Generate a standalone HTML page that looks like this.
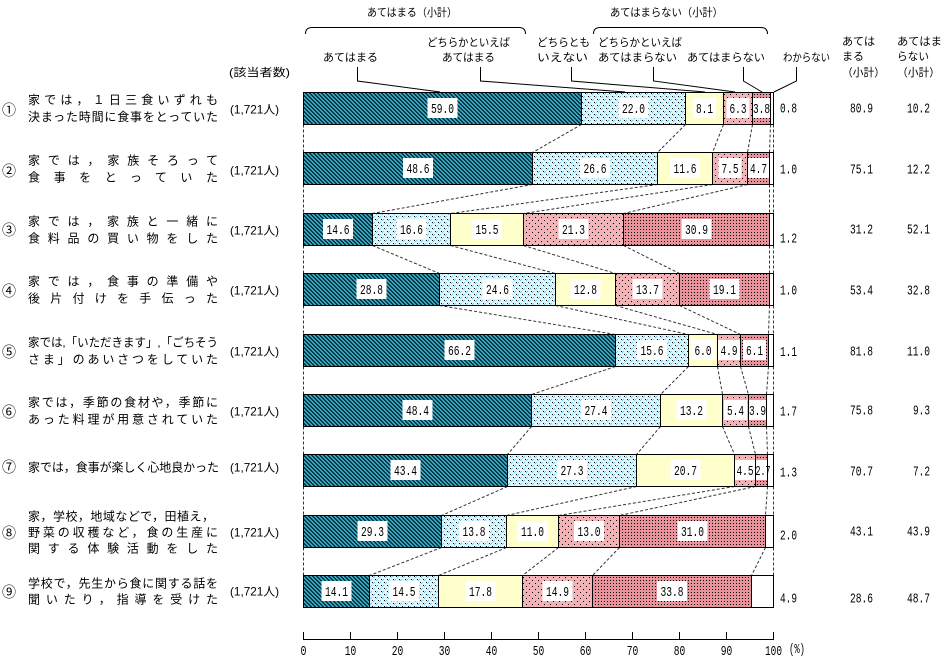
<!DOCTYPE html>
<html><head><meta charset="utf-8"><style>
html,body{margin:0;padding:0;background:#fff;}
body{width:950px;height:663px;overflow:hidden;}
svg{display:block;}
.j{font-family:"Liberation Sans","Noto Sans CJK JP",sans-serif;font-size:12px;fill:#000;}
.h{font-family:"Liberation Sans","Noto Sans CJK JP",sans-serif;font-size:11px;fill:#000;}
.n{font-family:"Liberation Mono",monospace;font-size:13.5px;fill:#000;}
.c{font-family:"Noto Sans CJK JP",sans-serif;font-size:14px;fill:#000;}
</style></head><body>
<svg width="950" height="663" viewBox="0 0 950 663" xmlns="http://www.w3.org/2000/svg">
<defs>
<pattern id="p1" width="4" height="4" patternUnits="userSpaceOnUse">
<rect width="4" height="4" fill="#36a6c0"/>
<path d="M0 0h2v1H0zM1 1h2v1H1zM2 2h2v1H2zM3 3h1v1H3zM0 3h1v1H0z" fill="#0b3a46"/>
</pattern>
<pattern id="p2" width="6" height="6" patternUnits="userSpaceOnUse">
<rect width="6" height="6" fill="#dff4fb"/>
<path d="M0 0h1v1H0zM3 3h1v1H3z" fill="#000"/>
<path d="M2 0h1v1H2zM5 3h1v1H5zM1 1h1v1H1zM4 4h1v1H4z" fill="#7cc4dc"/>
</pattern>
<pattern id="p4" width="6" height="6" patternUnits="userSpaceOnUse">
<rect width="6" height="6" fill="#f2b2b6"/>
<path d="M1 1h1v1H1zM4 4h1v1H4z" fill="#000"/>
</pattern>
<pattern id="p5" width="3" height="3" patternUnits="userSpaceOnUse">
<rect width="3" height="3" fill="#e8929c"/>
<rect x="1" y="1" width="1" height="1" fill="#000"/>
</pattern>
</defs>

<!-- header -->
<text class="h" x="367" y="16" textLength="90" lengthAdjust="spacingAndGlyphs">あてはまる（小計）</text>
<text class="h" x="610" y="16" textLength="113" lengthAdjust="spacingAndGlyphs">あてはまらない（小計）</text>
<path d="M305.5 34 Q305.5 27.5 312 27.5 L519 27.5 Q525.5 27.5 525.5 34" fill="none" stroke="#000"/>
<path d="M593.5 34 Q593.5 27.5 600 27.5 L761 27.5 Q767.5 27.5 767.5 34" fill="none" stroke="#000"/>
<text class="h" x="323" y="61" textLength="55" lengthAdjust="spacingAndGlyphs">あてはまる</text>
<text class="h" x="427" y="46" textLength="83" lengthAdjust="spacingAndGlyphs">どちらかといえば</text>
<text class="h" x="442" y="61" textLength="53" lengthAdjust="spacingAndGlyphs">あてはまる</text>
<text class="h" x="537" y="46" textLength="53" lengthAdjust="spacingAndGlyphs">どちらとも</text>
<text class="h" x="537" y="61" textLength="51" lengthAdjust="spacingAndGlyphs">いえない</text>
<text class="h" x="598" y="46" textLength="84" lengthAdjust="spacingAndGlyphs">どちらかといえば</text>
<text class="h" x="598" y="61" textLength="79" lengthAdjust="spacingAndGlyphs">あてはまらない</text>
<text class="h" x="687" y="61" textLength="78" lengthAdjust="spacingAndGlyphs">あてはまらない</text>
<text class="h" x="783" y="61" textLength="47" lengthAdjust="spacingAndGlyphs">わからない</text>
<text class="h" x="842" y="45" textLength="33" lengthAdjust="spacingAndGlyphs">あては</text>
<text class="h" x="842" y="60" textLength="22" lengthAdjust="spacingAndGlyphs">まる</text>
<text class="h" x="842" y="76" textLength="43" lengthAdjust="spacingAndGlyphs">（小計）</text>
<text class="h" x="897" y="45" textLength="45" lengthAdjust="spacingAndGlyphs">あてはま</text>
<text class="h" x="897" y="60" textLength="32" lengthAdjust="spacingAndGlyphs">らない</text>
<text class="h" x="897" y="76" textLength="43" lengthAdjust="spacingAndGlyphs">（小計）</text>
<text class="h" x="229" y="76" textLength="61" lengthAdjust="spacingAndGlyphs">(該当者数)</text>

<!-- leader lines -->
<g fill="none" stroke="#000" stroke-width="1">
<path d="M357.5 67 V81 L440 92"/>
<path d="M480.5 67 V81 L625 92"/>
<path d="M571.5 67 V81 L705 92"/>
<path d="M653.5 67 V81 L735 92"/>
<path d="M743.5 67 V81 L762 92"/>
<path d="M796.5 67 V81 L774 92"/>
</g>

<!-- dashed connectors -->
<g fill="none" stroke="#333" stroke-width="1" stroke-dasharray="3 2">
<path d="M303.5 124.5V152.5M581.5 124.5L532.5 152.5M685.5 124.5L657.5 152.5M723.5 124.5L712.5 152.5M752.5 124.5L747.5 152.5M770.5 124.5L769.5 152.5M773.5 124.5V152.5"/>
<path d="M303.5 184.5V213.5M532.5 184.5L372.5 213.5M657.5 184.5L450.5 213.5M712.5 184.5L523.5 213.5M747.5 184.5L623.5 213.5M769.5 184.5L769.5 213.5M773.5 184.5V213.5"/>
<path d="M303.5 245.5V273.5M372.5 245.5L439.5 273.5M450.5 245.5L555.5 273.5M523.5 245.5L615.5 273.5M623.5 245.5L679.5 273.5M769.5 245.5L769.5 273.5M773.5 245.5V273.5"/>
<path d="M303.5 305.5V334.5M439.5 305.5L615.5 334.5M555.5 305.5L688.5 334.5M615.5 305.5L717.5 334.5M679.5 305.5L740.5 334.5M769.5 305.5L768.5 334.5M773.5 305.5V334.5"/>
<path d="M303.5 366.5V394.5M615.5 366.5L531.5 394.5M688.5 366.5L660.5 394.5M717.5 366.5L722.5 394.5M740.5 366.5L748.5 394.5M768.5 366.5L766.5 394.5M773.5 366.5V394.5"/>
<path d="M303.5 426.5V454.5M531.5 426.5L507.5 454.5M660.5 426.5L636.5 454.5M722.5 426.5L734.5 454.5M748.5 426.5L755.5 454.5M766.5 426.5L767.5 454.5M773.5 426.5V454.5"/>
<path d="M303.5 486.5V515.5M507.5 486.5L441.5 515.5M636.5 486.5L506.5 515.5M734.5 486.5L558.5 515.5M755.5 486.5L619.5 515.5M767.5 486.5L765.5 515.5M773.5 486.5V515.5"/>
<path d="M303.5 547.5V575.5M441.5 547.5L369.5 575.5M506.5 547.5L438.5 575.5M558.5 547.5L522.5 575.5M619.5 547.5L592.5 575.5M765.5 547.5L751.5 575.5M773.5 547.5V575.5"/>
</g>

<!-- bars -->
<g stroke="#000" stroke-width="1">
<rect x="303.5" y="92.5" width="278" height="32" fill="url(#p1)"/>
<rect x="581.5" y="92.5" width="104" height="32" fill="url(#p2)"/>
<rect x="685.5" y="92.5" width="38" height="32" fill="#ffffcc"/>
<rect x="723.5" y="92.5" width="29" height="32" fill="url(#p4)"/>
<rect x="752.5" y="92.5" width="18" height="32" fill="url(#p5)"/>
<rect x="770.5" y="92.5" width="3" height="32" fill="#fff"/>

<rect x="303.5" y="152.5" width="229" height="32" fill="url(#p1)"/>
<rect x="532.5" y="152.5" width="125" height="32" fill="url(#p2)"/>
<rect x="657.5" y="152.5" width="55" height="32" fill="#ffffcc"/>
<rect x="712.5" y="152.5" width="35" height="32" fill="url(#p4)"/>
<rect x="747.5" y="152.5" width="22" height="32" fill="url(#p5)"/>
<rect x="769.5" y="152.5" width="4" height="32" fill="#fff"/>

<rect x="303.5" y="213.5" width="69" height="32" fill="url(#p1)"/>
<rect x="372.5" y="213.5" width="78" height="32" fill="url(#p2)"/>
<rect x="450.5" y="213.5" width="73" height="32" fill="#ffffcc"/>
<rect x="523.5" y="213.5" width="100" height="32" fill="url(#p4)"/>
<rect x="623.5" y="213.5" width="146" height="32" fill="url(#p5)"/>
<rect x="769.5" y="213.5" width="4" height="32" fill="#fff"/>

<rect x="303.5" y="273.5" width="136" height="32" fill="url(#p1)"/>
<rect x="439.5" y="273.5" width="116" height="32" fill="url(#p2)"/>
<rect x="555.5" y="273.5" width="60" height="32" fill="#ffffcc"/>
<rect x="615.5" y="273.5" width="64" height="32" fill="url(#p4)"/>
<rect x="679.5" y="273.5" width="90" height="32" fill="url(#p5)"/>
<rect x="769.5" y="273.5" width="4" height="32" fill="#fff"/>

<rect x="303.5" y="334.5" width="312" height="32" fill="url(#p1)"/>
<rect x="615.5" y="334.5" width="73" height="32" fill="url(#p2)"/>
<rect x="688.5" y="334.5" width="29" height="32" fill="#ffffcc"/>
<rect x="717.5" y="334.5" width="23" height="32" fill="url(#p4)"/>
<rect x="740.5" y="334.5" width="28" height="32" fill="url(#p5)"/>
<rect x="768.5" y="334.5" width="5" height="32" fill="#fff"/>

<rect x="303.5" y="394.5" width="228" height="32" fill="url(#p1)"/>
<rect x="531.5" y="394.5" width="129" height="32" fill="url(#p2)"/>
<rect x="660.5" y="394.5" width="62" height="32" fill="#ffffcc"/>
<rect x="722.5" y="394.5" width="26" height="32" fill="url(#p4)"/>
<rect x="748.5" y="394.5" width="18" height="32" fill="url(#p5)"/>
<rect x="766.5" y="394.5" width="7" height="32" fill="#fff"/>

<rect x="303.5" y="454.5" width="204" height="32" fill="url(#p1)"/>
<rect x="507.5" y="454.5" width="129" height="32" fill="url(#p2)"/>
<rect x="636.5" y="454.5" width="98" height="32" fill="#ffffcc"/>
<rect x="734.5" y="454.5" width="21" height="32" fill="url(#p4)"/>
<rect x="755.5" y="454.5" width="12" height="32" fill="url(#p5)"/>
<rect x="767.5" y="454.5" width="6" height="32" fill="#fff"/>

<rect x="303.5" y="515.5" width="138" height="32" fill="url(#p1)"/>
<rect x="441.5" y="515.5" width="65" height="32" fill="url(#p2)"/>
<rect x="506.5" y="515.5" width="52" height="32" fill="#ffffcc"/>
<rect x="558.5" y="515.5" width="61" height="32" fill="url(#p4)"/>
<rect x="619.5" y="515.5" width="146" height="32" fill="url(#p5)"/>
<rect x="765.5" y="515.5" width="8" height="32" fill="#fff"/>

<rect x="303.5" y="575.5" width="66" height="32" fill="url(#p1)"/>
<rect x="369.5" y="575.5" width="69" height="32" fill="url(#p2)"/>
<rect x="438.5" y="575.5" width="84" height="32" fill="#ffffcc"/>
<rect x="522.5" y="575.5" width="70" height="32" fill="url(#p4)"/>
<rect x="592.5" y="575.5" width="159" height="32" fill="url(#p5)"/>
<rect x="751.5" y="575.5" width="22" height="32" fill="#fff"/>
</g>

<!-- label boxes -->
<g fill="#fff">
<rect x="427.5" y="98" width="30" height="20"/><rect x="618.5" y="98" width="30" height="20"/><rect x="693" y="98" width="23" height="20"/><rect x="726.5" y="98" width="23" height="20"/><rect x="753" y="98" width="17" height="20"/>
<rect x="403" y="158" width="30" height="20"/><rect x="580" y="158" width="30" height="20"/><rect x="670" y="158" width="30" height="20"/><rect x="718.5" y="158" width="23" height="20"/><rect x="748" y="158" width="21" height="20"/>
<rect x="323" y="219" width="30" height="20"/><rect x="396.5" y="219" width="30" height="20"/><rect x="472" y="219" width="30" height="20"/><rect x="558.5" y="219" width="30" height="20"/><rect x="681.5" y="219" width="30" height="20"/>
<rect x="356.5" y="279" width="30" height="20"/><rect x="482.5" y="279" width="30" height="20"/><rect x="570.5" y="279" width="30" height="20"/><rect x="632.5" y="279" width="30" height="20"/><rect x="709.5" y="279" width="30" height="20"/>
<rect x="444.5" y="340" width="30" height="20"/><rect x="637" y="340" width="30" height="20"/><rect x="691.5" y="340" width="23" height="20"/><rect x="718" y="340" width="22" height="20"/><rect x="743" y="340" width="23" height="20"/>
<rect x="402.5" y="400" width="30" height="20"/><rect x="581" y="400" width="30" height="20"/><rect x="676.5" y="400" width="30" height="20"/><rect x="724" y="400" width="23" height="20"/><rect x="749" y="400" width="17" height="20"/>
<rect x="390.5" y="460" width="30" height="20"/><rect x="557" y="460" width="30" height="20"/><rect x="670.5" y="460" width="30" height="20"/><rect x="735" y="460" width="20" height="20"/><rect x="756" y="460" width="11" height="20"/>
<rect x="357.5" y="521" width="30" height="20"/><rect x="459" y="521" width="30" height="20"/><rect x="517.5" y="521" width="30" height="20"/><rect x="574" y="521" width="30" height="20"/><rect x="677.5" y="521" width="30" height="20"/>
<rect x="321.5" y="581" width="30" height="20"/><rect x="389" y="581" width="30" height="20"/><rect x="465.5" y="581" width="30" height="20"/><rect x="542.5" y="581" width="30" height="20"/><rect x="657" y="581" width="30" height="20"/>
</g>

<!-- values in bars -->
<g text-anchor="middle">
<text class="n" x="442.5" y="113" textLength="23" lengthAdjust="spacingAndGlyphs">59.0</text>
<text class="n" x="633.5" y="113" textLength="23" lengthAdjust="spacingAndGlyphs">22.0</text>
<text class="n" x="704.5" y="113" textLength="17" lengthAdjust="spacingAndGlyphs">8.1</text>
<text class="n" x="738" y="113" textLength="17" lengthAdjust="spacingAndGlyphs">6.3</text>
<text class="n" x="761.5" y="113" textLength="17" lengthAdjust="spacingAndGlyphs">3.8</text>

<text class="n" x="418" y="173" textLength="23" lengthAdjust="spacingAndGlyphs">48.6</text>
<text class="n" x="595" y="173" textLength="23" lengthAdjust="spacingAndGlyphs">26.6</text>
<text class="n" x="685" y="173" textLength="23" lengthAdjust="spacingAndGlyphs">11.6</text>
<text class="n" x="730" y="173" textLength="17" lengthAdjust="spacingAndGlyphs">7.5</text>
<text class="n" x="758.5" y="173" textLength="17" lengthAdjust="spacingAndGlyphs">4.7</text>

<text class="n" x="338" y="234" textLength="23" lengthAdjust="spacingAndGlyphs">14.6</text>
<text class="n" x="411.5" y="234" textLength="23" lengthAdjust="spacingAndGlyphs">16.6</text>
<text class="n" x="487" y="234" textLength="23" lengthAdjust="spacingAndGlyphs">15.5</text>
<text class="n" x="573.5" y="234" textLength="23" lengthAdjust="spacingAndGlyphs">21.3</text>
<text class="n" x="696.5" y="234" textLength="23" lengthAdjust="spacingAndGlyphs">30.9</text>

<text class="n" x="371.5" y="294" textLength="23" lengthAdjust="spacingAndGlyphs">28.8</text>
<text class="n" x="497.5" y="294" textLength="23" lengthAdjust="spacingAndGlyphs">24.6</text>
<text class="n" x="585.5" y="294" textLength="23" lengthAdjust="spacingAndGlyphs">12.8</text>
<text class="n" x="647.5" y="294" textLength="23" lengthAdjust="spacingAndGlyphs">13.7</text>
<text class="n" x="724.5" y="294" textLength="23" lengthAdjust="spacingAndGlyphs">19.1</text>

<text class="n" x="459.5" y="355" textLength="23" lengthAdjust="spacingAndGlyphs">66.2</text>
<text class="n" x="652" y="355" textLength="23" lengthAdjust="spacingAndGlyphs">15.6</text>
<text class="n" x="703" y="355" textLength="17" lengthAdjust="spacingAndGlyphs">6.0</text>
<text class="n" x="729" y="355" textLength="17" lengthAdjust="spacingAndGlyphs">4.9</text>
<text class="n" x="754.5" y="355" textLength="17" lengthAdjust="spacingAndGlyphs">6.1</text>

<text class="n" x="417.5" y="415" textLength="23" lengthAdjust="spacingAndGlyphs">48.4</text>
<text class="n" x="596" y="415" textLength="23" lengthAdjust="spacingAndGlyphs">27.4</text>
<text class="n" x="691.5" y="415" textLength="23" lengthAdjust="spacingAndGlyphs">13.2</text>
<text class="n" x="735.5" y="415" textLength="17" lengthAdjust="spacingAndGlyphs">5.4</text>
<text class="n" x="757.5" y="415" textLength="17" lengthAdjust="spacingAndGlyphs">3.9</text>

<text class="n" x="405.5" y="475" textLength="23" lengthAdjust="spacingAndGlyphs">43.4</text>
<text class="n" x="572" y="475" textLength="23" lengthAdjust="spacingAndGlyphs">27.3</text>
<text class="n" x="685.5" y="475" textLength="23" lengthAdjust="spacingAndGlyphs">20.7</text>
<text class="n" x="745" y="475" textLength="17" lengthAdjust="spacingAndGlyphs">4.5</text>
<text class="n" x="763" y="475" textLength="15" lengthAdjust="spacingAndGlyphs">2.7</text>

<text class="n" x="372.5" y="536" textLength="23" lengthAdjust="spacingAndGlyphs">29.3</text>
<text class="n" x="474" y="536" textLength="23" lengthAdjust="spacingAndGlyphs">13.8</text>
<text class="n" x="532.5" y="536" textLength="23" lengthAdjust="spacingAndGlyphs">11.0</text>
<text class="n" x="589" y="536" textLength="23" lengthAdjust="spacingAndGlyphs">13.0</text>
<text class="n" x="692.5" y="536" textLength="23" lengthAdjust="spacingAndGlyphs">31.0</text>

<text class="n" x="336.5" y="596" textLength="23" lengthAdjust="spacingAndGlyphs">14.1</text>
<text class="n" x="404" y="596" textLength="23" lengthAdjust="spacingAndGlyphs">14.5</text>
<text class="n" x="480.5" y="596" textLength="23" lengthAdjust="spacingAndGlyphs">17.8</text>
<text class="n" x="557.5" y="596" textLength="23" lengthAdjust="spacingAndGlyphs">14.9</text>
<text class="n" x="672" y="596" textLength="23" lengthAdjust="spacingAndGlyphs">33.8</text>
</g>

<!-- わからない values -->
<g>
<text class="n" x="780" y="112.5" textLength="17" lengthAdjust="spacingAndGlyphs">0.8</text>
<text class="n" x="780" y="173.5" textLength="17" lengthAdjust="spacingAndGlyphs">1.0</text>
<text class="n" x="780" y="242.5" textLength="17" lengthAdjust="spacingAndGlyphs">1.2</text>
<text class="n" x="780" y="294.5" textLength="17" lengthAdjust="spacingAndGlyphs">1.0</text>
<text class="n" x="780" y="356" textLength="17" lengthAdjust="spacingAndGlyphs">1.1</text>
<text class="n" x="780" y="415.5" textLength="17" lengthAdjust="spacingAndGlyphs">1.7</text>
<text class="n" x="780" y="476.5" textLength="17" lengthAdjust="spacingAndGlyphs">1.3</text>
<text class="n" x="780" y="539.5" textLength="17" lengthAdjust="spacingAndGlyphs">2.0</text>
<text class="n" x="780" y="602.5" textLength="17" lengthAdjust="spacingAndGlyphs">4.9</text>
</g>

<!-- subtotals -->
<g text-anchor="end">
<text class="n" x="873" y="112.5" textLength="23" lengthAdjust="spacingAndGlyphs">80.9</text>
<text class="n" x="930" y="112.5" textLength="23" lengthAdjust="spacingAndGlyphs">10.2</text>
<text class="n" x="873" y="173.5" textLength="23" lengthAdjust="spacingAndGlyphs">75.1</text>
<text class="n" x="930" y="173.5" textLength="23" lengthAdjust="spacingAndGlyphs">12.2</text>
<text class="n" x="873" y="233.5" textLength="23" lengthAdjust="spacingAndGlyphs">31.2</text>
<text class="n" x="930" y="233.5" textLength="23" lengthAdjust="spacingAndGlyphs">52.1</text>
<text class="n" x="873" y="294.5" textLength="23" lengthAdjust="spacingAndGlyphs">53.4</text>
<text class="n" x="930" y="294.5" textLength="23" lengthAdjust="spacingAndGlyphs">32.8</text>
<text class="n" x="873" y="355.5" textLength="23" lengthAdjust="spacingAndGlyphs">81.8</text>
<text class="n" x="930" y="355.5" textLength="23" lengthAdjust="spacingAndGlyphs">11.0</text>
<text class="n" x="873" y="414.5" textLength="23" lengthAdjust="spacingAndGlyphs">75.8</text>
<text class="n" x="930" y="414.5" textLength="17" lengthAdjust="spacingAndGlyphs">9.3</text>
<text class="n" x="873" y="475.5" textLength="23" lengthAdjust="spacingAndGlyphs">70.7</text>
<text class="n" x="930" y="475.5" textLength="17" lengthAdjust="spacingAndGlyphs">7.2</text>
<text class="n" x="873" y="535.5" textLength="23" lengthAdjust="spacingAndGlyphs">43.1</text>
<text class="n" x="930" y="535.5" textLength="23" lengthAdjust="spacingAndGlyphs">43.9</text>
<text class="n" x="873" y="602.5" textLength="23" lengthAdjust="spacingAndGlyphs">28.6</text>
<text class="n" x="930" y="602.5" textLength="23" lengthAdjust="spacingAndGlyphs">48.7</text>
</g>

<!-- left labels -->
<g>
<text class="c" x="2" y="115">①</text>
<text class="j" x="28" y="104" textLength="190" lengthAdjust="spacing">家では，１日三食いずれも</text>
<text class="j" x="28" y="121" textLength="190" lengthAdjust="spacing">決まった時間に食事をとっていた</text>
<text class="j" x="230" y="113.5" textLength="49" lengthAdjust="spacingAndGlyphs">(1,721人)</text>

<text class="c" x="2" y="176">②</text>
<text class="j" x="28" y="164.5" textLength="190" lengthAdjust="spacing">家では，家族そろって</text>
<text class="j" x="28" y="181.5" textLength="190" lengthAdjust="spacing">食事をとっていた</text>
<text class="j" x="230" y="174.5" textLength="49" lengthAdjust="spacingAndGlyphs">(1,721人)</text>

<text class="c" x="2" y="235">③</text>
<text class="j" x="28" y="225.5" textLength="190" lengthAdjust="spacing">家では，家族と一緒に</text>
<text class="j" x="28" y="242.5" textLength="190" lengthAdjust="spacing">食料品の買い物をした</text>
<text class="j" x="230" y="234.5" textLength="49" lengthAdjust="spacingAndGlyphs">(1,721人)</text>

<text class="c" x="2" y="296">④</text>
<text class="j" x="28" y="285.5" textLength="190" lengthAdjust="spacing">家では，食事の準備や</text>
<text class="j" x="28" y="302.5" textLength="190" lengthAdjust="spacing">後片付けを手伝った</text>
<text class="j" x="230" y="294.5" textLength="49" lengthAdjust="spacingAndGlyphs">(1,721人)</text>

<text class="c" x="2" y="357">⑤</text>
<text class="j" x="28" y="346.5" textLength="190" lengthAdjust="spacingAndGlyphs">家では,「いただきます」,「ごちそう</text>
<text class="j" x="28" y="363.5" textLength="190" lengthAdjust="spacing">さま」のあいさつをしていた</text>
<text class="j" x="230" y="355.5" textLength="49" lengthAdjust="spacingAndGlyphs">(1,721人)</text>

<text class="c" x="2" y="417">⑥</text>
<text class="j" x="28" y="406.5" textLength="190" lengthAdjust="spacing">家では，季節の食材や，季節に</text>
<text class="j" x="28" y="423.5" textLength="190" lengthAdjust="spacing">あった料理が用意されていた</text>
<text class="j" x="230" y="415.5" textLength="49" lengthAdjust="spacingAndGlyphs">(1,721人)</text>

<text class="c" x="2" y="472">⑦</text>
<text class="j" x="28" y="471.5" textLength="191" lengthAdjust="spacing">家では，食事が楽しく心地良かった</text>
<text class="j" x="230" y="471.5" textLength="49" lengthAdjust="spacingAndGlyphs">(1,721人)</text>

<text class="c" x="2" y="538">⑧</text>
<text class="j" x="28" y="520.5" textLength="186" lengthAdjust="spacing">家，学校，地域などで，田植え，</text>
<text class="j" x="28" y="536.5" textLength="190" lengthAdjust="spacing">野菜の収穫など，食の生産に</text>
<text class="j" x="28" y="552.5" textLength="190" lengthAdjust="spacing">関する体験活動をした</text>
<text class="j" x="230" y="536.5" textLength="49" lengthAdjust="spacingAndGlyphs">(1,721人)</text>

<text class="c" x="2" y="597">⑨</text>
<text class="j" x="28" y="587.5" textLength="190" lengthAdjust="spacing">学校で，先生から食に関する話を</text>
<text class="j" x="28" y="603.5" textLength="190" lengthAdjust="spacing">聞いたり，指導を受けた</text>
<text class="j" x="230" y="595.5" textLength="49" lengthAdjust="spacingAndGlyphs">(1,721人)</text>
</g>

<!-- axis -->
<g stroke="#000" stroke-width="1" fill="none">
<path d="M303.5 639.5H773.5"/>
<path d="M303.5 632V640M350.5 632V640M397.5 632V640M444.5 632V640M491.5 632V640M538.5 632V640M585.5 632V640M632.5 632V640M679.5 632V640M726.5 632V640M773.5 632V640"/>
</g>
<g text-anchor="middle">
<text class="n" x="303.5" y="655" textLength="6" lengthAdjust="spacingAndGlyphs">0</text>
<text class="n" x="350.5" y="655" textLength="11.5" lengthAdjust="spacingAndGlyphs">10</text>
<text class="n" x="397.5" y="655" textLength="11.5" lengthAdjust="spacingAndGlyphs">20</text>
<text class="n" x="444.5" y="655" textLength="11.5" lengthAdjust="spacingAndGlyphs">30</text>
<text class="n" x="491.5" y="655" textLength="11.5" lengthAdjust="spacingAndGlyphs">40</text>
<text class="n" x="538.5" y="655" textLength="11.5" lengthAdjust="spacingAndGlyphs">50</text>
<text class="n" x="585.5" y="655" textLength="11.5" lengthAdjust="spacingAndGlyphs">60</text>
<text class="n" x="632.5" y="655" textLength="11.5" lengthAdjust="spacingAndGlyphs">70</text>
<text class="n" x="679.5" y="655" textLength="11.5" lengthAdjust="spacingAndGlyphs">80</text>
<text class="n" x="726.5" y="655" textLength="11.5" lengthAdjust="spacingAndGlyphs">90</text>
<text class="n" x="773.5" y="655" textLength="17" lengthAdjust="spacingAndGlyphs">100</text>
</g>
<text class="n" x="789" y="653" textLength="16" lengthAdjust="spacingAndGlyphs">(%)</text>
</svg>
</body></html>
